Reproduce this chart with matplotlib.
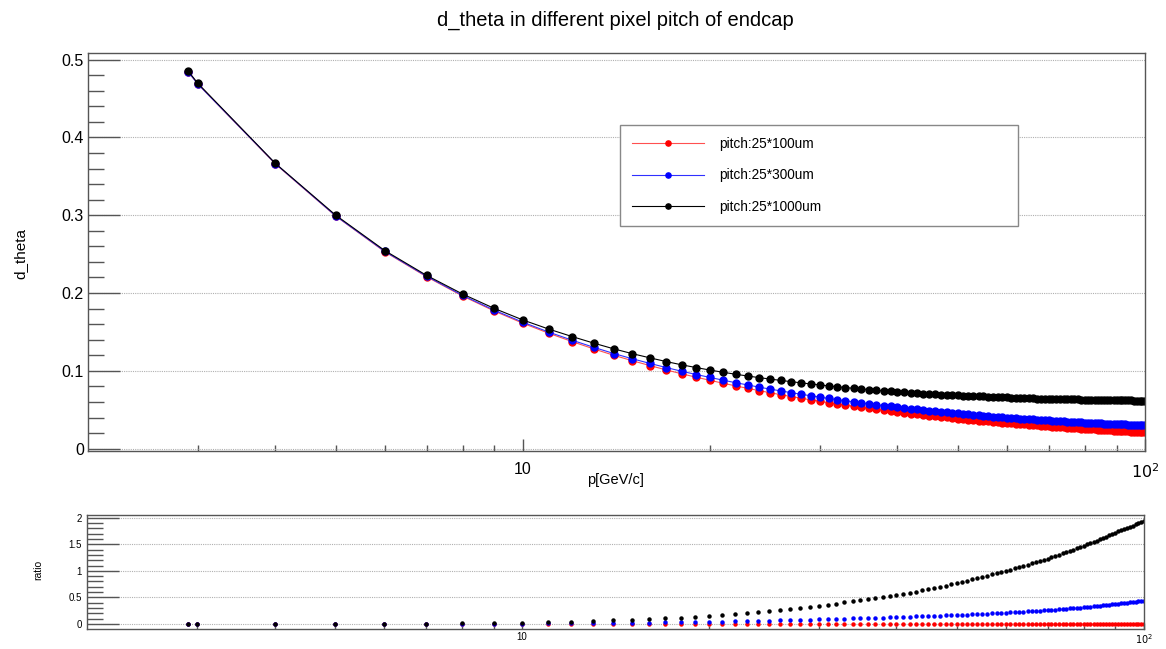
import numpy as np
import matplotlib
matplotlib.use("Agg")
import matplotlib.pyplot as plt
from matplotlib.ticker import FixedLocator, FixedFormatter, MultipleLocator, NullFormatter

plt.rcParams['font.family'] = ['Liberation Sans', 'DejaVu Sans']

# ---------------------------------------------------------------------------
# data
# ---------------------------------------------------------------------------
p = np.array([
    2.9, 3, 4, 5, 6, 7, 8, 9, 10,
    11, 12, 13, 14, 15, 16, 17, 18, 19, 20,
    21, 22, 23, 24, 25, 26, 27, 28, 29, 30,
    31, 32, 33, 34, 35, 36, 37, 38, 39, 40,
    41, 42, 43, 44, 45, 46, 47, 48, 49, 50,
    51, 52, 53, 54, 55, 56, 57, 58, 59, 60,
    61, 62, 63, 64, 65, 66, 67, 68, 69, 70,
    71, 72, 73, 74, 75, 76, 77, 78, 79, 80,
    81, 82, 83, 84, 85, 86, 87, 88, 89, 90,
    91, 92, 93, 94, 95, 96, 97, 98, 99, 100,
], dtype=float)

# d_theta for pitch 25*100um
dtheta_100 = np.array([
    0.4840, 0.4690, 0.3660, 0.2990, 0.2530, 0.2210, 0.1962, 0.1768, 0.1612,
    0.1484, 0.1376, 0.1282, 0.1200, 0.1130, 0.1068, 0.1012, 0.0962, 0.0918, 0.0878,
    0.0840, 0.0806, 0.0775, 0.0745, 0.0718, 0.0693, 0.0670, 0.0648, 0.0628, 0.0609,
    0.0591, 0.0574, 0.0559, 0.0544, 0.0531, 0.0518, 0.0505, 0.0493, 0.0482, 0.0471,
    0.0461, 0.0451, 0.0442, 0.0433, 0.0425, 0.0417, 0.0409, 0.0401, 0.0394, 0.0387,
    0.0380, 0.0374, 0.0367, 0.0361, 0.0356, 0.0350, 0.0344, 0.0339, 0.0334, 0.0329,
    0.0324, 0.0320, 0.0315, 0.0311, 0.0307, 0.0302, 0.0298, 0.0295, 0.0291, 0.0287,
    0.0284, 0.0280, 0.0277, 0.0273, 0.0270, 0.0267, 0.0264, 0.0261, 0.0258, 0.0255,
    0.0252, 0.0250, 0.0247, 0.0244, 0.0242, 0.0239, 0.0237, 0.0234, 0.0232, 0.0230,
    0.0228, 0.0225, 0.0223, 0.0221, 0.0219, 0.0217, 0.0215, 0.0213, 0.0211, 0.0209,
])

# ratio (x - pitch100)/pitch100 read from the lower pad
ratio_300 = np.array([
    0.000, 0.000, 0.001, 0.001, 0.002, 0.003, 0.004, 0.006, 0.008,
    0.010, 0.013, 0.016, 0.019, 0.022, 0.026, 0.030, 0.034, 0.038, 0.042,
    0.047, 0.051, 0.056, 0.060, 0.065, 0.070, 0.074, 0.079, 0.083, 0.088,
    0.092, 0.096, 0.101, 0.105, 0.109, 0.113, 0.117, 0.122, 0.126, 0.130,
    0.134, 0.138, 0.142, 0.146, 0.150, 0.154, 0.158, 0.162, 0.166, 0.170,
    0.174, 0.178, 0.183, 0.187, 0.191, 0.196, 0.200, 0.204, 0.209, 0.213,
    0.218, 0.223, 0.228, 0.233, 0.237, 0.242, 0.247, 0.252, 0.257, 0.262,
    0.267, 0.272, 0.278, 0.283, 0.288, 0.294, 0.299, 0.304, 0.310, 0.315,
    0.321, 0.327, 0.333, 0.339, 0.345, 0.351, 0.357, 0.363, 0.369, 0.375,
    0.381, 0.388, 0.394, 0.401, 0.407, 0.414, 0.420, 0.427, 0.433, 0.440,
])

ratio_1000 = np.array([
    0.002, 0.002, 0.002, 0.004, 0.006, 0.008, 0.013, 0.019, 0.026,
    0.036, 0.047, 0.058, 0.069, 0.080, 0.093, 0.106, 0.120, 0.135, 0.150,
    0.168, 0.186, 0.204, 0.225, 0.245, 0.265, 0.285, 0.305, 0.325, 0.345,
    0.365, 0.385, 0.405, 0.425, 0.445, 0.465, 0.485, 0.505, 0.525, 0.545,
    0.567, 0.589, 0.610, 0.631, 0.653, 0.676, 0.699, 0.722, 0.746, 0.770,
    0.793, 0.816, 0.839, 0.862, 0.885, 0.908, 0.931, 0.954, 0.977, 1.000,
    1.023, 1.046, 1.069, 1.092, 1.115, 1.138, 1.161, 1.184, 1.207, 1.230,
    1.254, 1.278, 1.302, 1.326, 1.350, 1.374, 1.398, 1.422, 1.446, 1.470,
    1.495, 1.520, 1.545, 1.570, 1.595, 1.620, 1.645, 1.670, 1.695, 1.720,
    1.742, 1.764, 1.786, 1.808, 1.830, 1.852, 1.874, 1.896, 1.918, 1.940,
])
ratio_100 = (dtheta_100 - dtheta_100) / dtheta_100

dtheta_300 = dtheta_100 * (1 + ratio_300)
dtheta_1000 = dtheta_100 * (1 + ratio_1000)

labels = ['pitch:25*100um', 'pitch:25*300um', 'pitch:25*1000um']
colors = ['#ff0000', '#0000ff', '#000000']
line_colors = ['#ff5050', '#3030ff', '#000000']

# ---------------------------------------------------------------------------
fig = plt.figure(figsize=(11.66, 6.49), dpi=100)
ax = fig.add_axes([0.0755, 0.3051, 0.9065, 0.6133])
axr = fig.add_axes([0.0750, 0.0308, 0.9060, 0.1757])

frame_col = '#555555'

for d, lab, c, lc in zip([dtheta_100, dtheta_300, dtheta_1000], labels, colors, line_colors):
    ax.plot(p, d, color=lc, lw=0.8, marker='o', ms=5, mec=c, mfc=c, label=lab)

for r, c in zip([ratio_100, ratio_300, ratio_1000], colors):
    axr.plot(p, r, ls='none', marker='o', ms=2.2, mec=c, mfc=c)

for a in (ax, axr):
    a.set_xscale('log')
    a.set_xlim(2, 100)
    a.xaxis.set_major_locator(FixedLocator([10, 100]))
    a.xaxis.set_major_formatter(FixedFormatter(['10', '$10^{2}$']))
    a.xaxis.set_minor_locator(FixedLocator([3, 4, 5, 6, 7, 8, 9, 20, 30, 40, 50, 60, 70, 80, 90]))
    a.xaxis.set_minor_formatter(NullFormatter())
    for s in a.spines.values():
        s.set_color(frame_col)
        s.set_linewidth(1.0)
    a.yaxis.grid(True, which='major', linestyle=(0, (1, 1)), color='#b0b0b0', lw=0.8)
    a.set_axisbelow(True)

# upper pad
ax.set_ylim(-0.003, 0.5086)
ax.yaxis.set_major_locator(MultipleLocator(0.1))
ax.yaxis.set_minor_locator(MultipleLocator(0.02))
ax.yaxis.set_major_formatter(matplotlib.ticker.FuncFormatter(lambda v, pos: '0' if abs(v) < 1e-9 else f'{v:.1f}'))
ax.tick_params(axis='y', which='major', direction='in', length=23, width=1, color=frame_col,
               labelsize=11.5, pad=3, right=False)
ax.tick_params(axis='y', which='minor', direction='in', length=11.5, width=1, color=frame_col, right=False)
ax.tick_params(axis='x', which='major', direction='in', length=8.6, width=1, color=frame_col,
               labelsize=11.5, pad=8, top=False)
ax.tick_params(axis='x', which='minor', direction='in', length=4.3, width=1, color=frame_col, top=False)

leg = ax.legend(loc='upper left', bbox_to_anchor=(0.5033, 0.565, 0.3765, 0.254), mode='expand',
                fontsize=9.8, frameon=True, fancybox=False, framealpha=1, edgecolor='#888888',
                handlelength=5.3, handletextpad=1.1, labelspacing=1.3, borderpad=0.85,
                borderaxespad=0, markerscale=0.75)
leg.get_frame().set_linewidth(1.0)

# lower pad
axr.set_ylim(-0.094, 2.05)
axr.yaxis.set_major_locator(FixedLocator([0, 0.5, 1, 1.5, 2]))
axr.yaxis.set_major_formatter(FixedFormatter(['0', '0.5', '1', '1.5', '2']))
axr.yaxis.set_minor_locator(MultipleLocator(0.1))
axr.tick_params(axis='y', which='major', direction='in', length=23, width=1, color=frame_col,
                labelsize=7, pad=4, right=False)
axr.tick_params(axis='y', which='minor', direction='in', length=11.5, width=1, color=frame_col, right=False)
axr.tick_params(axis='x', which='major', direction='in', length=4.5, width=1, color=frame_col,
                labelsize=7, pad=2, top=False)
axr.tick_params(axis='x', which='minor', direction='in', length=2.2, width=1, color=frame_col, top=False)

# texts
fig.text(615 / 1166, 1 - 20 / 649, 'd_theta in different pixel pitch of endcap',
         ha='center', va='center', fontsize=14.5)
fig.text(20 / 1166, 1 - 253 / 649, 'd_theta', rotation=90, ha='center', va='center', fontsize=11)
fig.text(615 / 1166, 1 - 480 / 649, 'p[GeV/c]', ha='center', va='center', fontsize=10.5)
fig.text(38 / 1166, 1 - 570 / 649, 'ratio', rotation=90, ha='center', va='center', fontsize=7.5)

fig.savefig('out.png', dpi=100)
